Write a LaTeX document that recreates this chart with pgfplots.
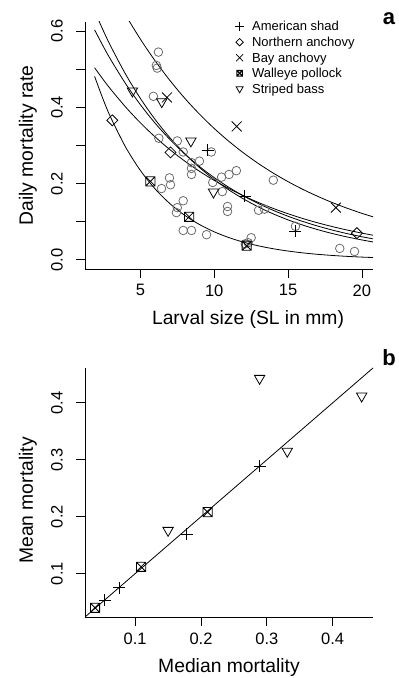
\documentclass[border=0pt]{standalone}
\usepackage{fontspec}
\setmainfont{Liberation Sans}
\usepackage{pgfplots}
\pgfplotsset{compat=1.18}
\pgfdeclareplotmark{sqx}{%
 \pgfpathrectangle{\pgfqpoint{-\pgfplotmarksize}{-\pgfplotmarksize}}{\pgfqpoint{2\pgfplotmarksize}{2\pgfplotmarksize}}%
 \pgfpathmoveto{\pgfqpoint{-\pgfplotmarksize}{-\pgfplotmarksize}}%
 \pgfpathlineto{\pgfqpoint{\pgfplotmarksize}{\pgfplotmarksize}}%
 \pgfpathmoveto{\pgfqpoint{-\pgfplotmarksize}{\pgfplotmarksize}}%
 \pgfpathlineto{\pgfqpoint{\pgfplotmarksize}{-\pgfplotmarksize}}%
 \pgfusepathqstroke}
\definecolor{circgray}{gray}{0.42}
\newcommand{\tickfont}{\fontsize{16.5}{19}\selectfont}
\newcommand{\legfont}{\fontsize{13}{15}\selectfont}
\pgfplotsset{panel/.style={
  scale only axis, width=288pt,
  axis x line*=bottom, axis y line*=left,
  axis line style={-, line width=0.8pt},
  tick align=outside, major tick length=9pt,
  tick style={line width=0.8pt, black},
  ticklabel style={font=\tickfont},
  /pgf/number format/assume math mode=true,
  label style={font=\fontsize{19.3}{22}\selectfont},
  xticklabel style={yshift=-3pt},
  ylabel style={at={([xshift=-57pt]axis description cs:0,0.5)}, anchor=center, rotate=0},
  every axis plot/.append style={line width=0.8pt},
}}
\begin{document}
\begin{tikzpicture}
\path[use as bounding box] (0pt,0pt) rectangle (399pt,678pt);
% ---------- panel a ----------
\begin{axis}[panel, at={(85pt,409pt)}, anchor=south west, height=247pt,
  xmin=1.25, xmax=20.75, ymin=-0.024, ymax=0.624,
  xtick={5,10,15,20},
  ytick={0,0.1,0.2,0.3,0.4,0.5,0.6}, yticklabels={},
  xlabel={Larval size (SL in mm)}, ylabel={Daily mortality rate},
  xlabel style={at={([yshift=-51pt]axis description cs:0.566,0)}, anchor=center},
  after end axis/.code={
    \node[rotate=90, font=\tickfont] at ([xshift=-28pt]axis cs:1.25,0) {0.0};
    \node[rotate=90, font=\tickfont] at ([xshift=-28pt]axis cs:1.25,0.2) {0.2};
    \node[rotate=90, font=\tickfont] at ([xshift=-28pt]axis cs:1.25,0.4) {0.4};
    \node[rotate=90, font=\tickfont] at ([xshift=-28pt]axis cs:1.25,0.6) {0.6};
    \begin{scope}[every node/.style={anchor=west, font=\legfont, inner sep=0pt, text height=9.3pt, text depth=0pt}]
    \node at (axis cs:12.55,0.6132) {American shad};
    \node at (axis cs:12.55,0.5711) {Northern anchovy};
    \node at (axis cs:12.55,0.5303) {Bay anchovy};
    \node at (axis cs:12.55,0.4895) {Walleye pollock};
    \node at (axis cs:12.55,0.4487) {Striped bass};
    \end{scope}
  },
]
\addplot[only marks, mark=o, mark size=4.3pt, circgray] coordinates {
(6.22,0.545) (6.08,0.51) (6.14,0.503) (5.88,0.429)
(6.25,0.319) (7.5,0.312) (7.9,0.283) (8.46,0.255) (8.46,0.24) (8.46,0.224) (9.0,0.259) (9.8,0.283)
(6.97,0.215) (7.04,0.197) (6.43,0.187)
(7.9,0.155) (7.5,0.137) (7.44,0.124) (7.9,0.077) (8.46,0.077) (9.48,0.066)
(9.9,0.203) (10.55,0.179) (10.5,0.217) (11.0,0.224) (11.5,0.234) (10.9,0.14) (10.9,0.127)
(13.0,0.13) (13.4,0.133) (14.0,0.209) (15.5,0.088) (12.5,0.058) (12.1,0.042) (12.3,0.045) (18.5,0.03) (19.5,0.022)
};
% fitted curves
\addplot[black, smooth] coordinates {
(3.5,0.6766) (4,0.642) (5,0.579) (6,0.522) (7,0.4706) (8,0.4241) (9,0.3823) (10,0.3446) (11,0.3107) (12,0.2800) (13,0.2524) (14,0.2275) (15,0.2051) (16,0.1849) (17,0.1667) (18,0.1502) (19,0.1354) (20,0.1220) (20.75,0.1129)};
\addplot[black, smooth] coordinates {
(1.9,0.4813) (2.5,0.4188) (3,0.3729) (4,0.2958) (5,0.2345) (6,0.1859) (7,0.1474) (8,0.1169) (9,0.0927) (10,0.0735) (11,0.0583) (12,0.0462) (13,0.0367) (14,0.0291) (15,0.0231) (16,0.0183) (17,0.0145) (18,0.0115) (19,0.0091) (20,0.0072) (20.75,0.0061)};
\addplot[black, smooth] coordinates {
(2,0.6437) (2.5,0.6003) (3,0.5598) (4,0.4869) (5,0.4235) (6,0.3682) (7,0.3203) (8,0.2785) (9,0.2423) (10,0.2107) (11,0.1832) (12,0.1594) (13,0.1386) (14,0.1205) (15,0.1048) (16,0.0912) (17,0.0793) (18,0.0690) (19,0.0600) (20,0.0522) (20.75,0.0470)};
\addplot[black, smooth] coordinates {
(1.9,0.6033) (2.5,0.5591) (3,0.5247) (4,0.4621) (5,0.4070) (6,0.3584) (7,0.3157) (8,0.2780) (9,0.2449) (10,0.2157) (11,0.1900) (12,0.1673) (13,0.1474) (14,0.1298) (15,0.1143) (16,0.1007) (17,0.0887) (18,0.0781) (19,0.0688) (20,0.0606) (20.75,0.0551)};
\addplot[black, smooth] coordinates {
(1.9,0.5040) (2.5,0.4721) (3,0.4471) (4,0.4009) (5,0.3595) (6,0.3224) (7,0.2891) (8,0.2592) (9,0.2324) (10,0.2084) (11,0.1869) (12,0.1676) (13,0.1503) (14,0.1348) (15,0.1209) (16,0.1084) (17,0.0972) (18,0.0872) (19,0.0782) (20,0.0701) (20.75,0.0646)};
% species
\addplot[only marks, mark=+, mark size=6pt, black] coordinates {(9.55,0.288) (12.06,0.167) (15.5,0.075)};
\addplot[only marks, mark=square, mark size=3.9pt, mark options={rotate=45}, black] coordinates {(3.1,0.366) (7.04,0.282) (19.66,0.07)};
\addplot[only marks, mark=x, mark size=7pt, black] coordinates {(6.8,0.426) (11.52,0.35) (18.24,0.137)};
\addplot[only marks, mark=sqx, mark size=4.6pt, black] coordinates {(5.68,0.206) (8.3,0.113) (12.2,0.037)};
\addplot[only marks, mark=triangle, mark size=6pt, mark options={rotate=180}, black] coordinates {(4.46,0.443) (6.45,0.415) (8.42,0.312) (9.95,0.178)};
% legend keys
\addplot[only marks, mark=+, mark size=4.5pt, black] coordinates {(11.72,0.6132)};
\addplot[only marks, mark=square, mark size=2.6pt, mark options={rotate=45}, black] coordinates {(11.72,0.5711)};
\addplot[only marks, mark=x, mark size=5pt, black] coordinates {(11.72,0.5303)};
\addplot[only marks, mark=sqx, mark size=2.8pt, black, line width=1.1pt] coordinates {(11.72,0.4895)};
\addplot[only marks, mark=triangle, mark size=4pt, mark options={rotate=180}, black] coordinates {(11.72,0.4487)};
\end{axis}
% ---------- panel b ----------
\begin{axis}[panel, at={(85pt,61pt)}, anchor=south west, height=249pt,
  xmin=0.0238, xmax=0.4612, ymin=0.0238, ymax=0.4612,
  xtick={0.1,0.2,0.3,0.4}, xticklabels={0.1,0.2,0.3,0.4},
  ytick={0.1,0.2,0.3,0.4}, yticklabels={},
  xlabel={Median mortality}, ylabel={Mean mortality},
  xlabel style={at={([yshift=-51pt]axis description cs:0.5,0)}, anchor=center},
  ylabel style={at={([xshift=-57pt,yshift=-8pt]axis description cs:0,0.5)}},
  after end axis/.code={
    \node[rotate=90, font=\tickfont] at ([xshift=-28pt]axis cs:0.0238,0.1) {0.1};
    \node[rotate=90, font=\tickfont] at ([xshift=-28pt]axis cs:0.0238,0.2) {0.2};
    \node[rotate=90, font=\tickfont] at ([xshift=-28pt]axis cs:0.0238,0.3) {0.3};
    \node[rotate=90, font=\tickfont] at ([xshift=-28pt]axis cs:0.0238,0.4) {0.4};
  },
]
\addplot[black] coordinates {(0.0238,0.0238) (0.4612,0.4612)};
\addplot[only marks, mark=+, mark size=6pt, black] coordinates {(0.054,0.053) (0.076,0.075) (0.178,0.169) (0.289,0.289)};
\addplot[only marks, mark=sqx, mark size=4.6pt, black] coordinates {(0.039,0.040) (0.109,0.112) (0.210,0.208)};
\addplot[only marks, mark=triangle, mark size=6pt, mark options={rotate=180}, black] coordinates {(0.150,0.176) (0.289,0.443) (0.331,0.315) (0.444,0.412)};
\end{axis}
\node[font=\bfseries\fontsize{22}{26}\selectfont] at (389pt,659pt) {a};
\node[font=\bfseries\fontsize{22}{26}\selectfont] at (389pt,320pt) {b};
\end{tikzpicture}
\end{document}
